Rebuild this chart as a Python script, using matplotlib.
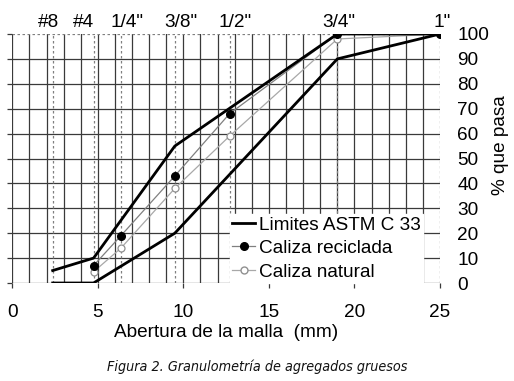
import numpy as np
import matplotlib
matplotlib.use('Agg')
import matplotlib.pyplot as plt
from matplotlib.lines import Line2D

plt.rcParams['font.family'] = ['Liberation Sans', 'DejaVu Sans']

# Sieve positions (mm) and their names on top
tamices = [2.36, 4.75, 6.35, 9.5, 12.7, 19, 25]
nombres = ['#8', '#4', '1/4"', '3/8"', '1/2"', '3/4"', '1"']
# where the names sit (mm), as drawn in the original
pos_nombres = [2.1, 4.15, 6.7, 9.85, 13.0, 19.1, 25.1]

# ASTM C 33 limits
lim_x = [2.36, 4.75, 9.5, 19, 25]
lim_sup = [5, 10, 55, 100, 100]
lim_inf = [0, 0, 20, 90, 100]

# Measured gradings
serie_x = [4.75, 6.35, 9.5, 12.7, 19, 25]
reciclada = [7, 19, 43, 68, 100, 100]
natural = [4.5, 14, 38, 59, 98, 100]

xticks = [0, 5, 10, 15, 20, 25]
yticks = [0, 10, 20, 30, 40, 50, 60, 70, 80, 90, 100]

fs = 13.7
W, H = 514, 381
fig = plt.figure(figsize=(W / 100, H / 100), dpi=100)
ax = fig.add_axes([12.3 / W, 1 - 283 / H, 427.7 / W, 249 / H])
ax.set_xlim(0, 25)
ax.set_ylim(0, 100)
for s in ax.spines.values():
    s.set_visible(False)

# grid: solid every mm / every 10 %, dotted at sieves and at 100 %
gc = '#3a3a3a'
for xv in range(0, 25):
    ax.axvline(xv, color=gc, lw=0.9, zorder=1)
for yv in yticks[:-1]:
    ax.axhline(yv, color=gc, lw=0.9, zorder=1)
for xv in tamices:
    ax.axvline(xv, color='#808080', lw=0.9, ls=(0, (2, 2)), zorder=1.2)
ax.axhline(100, color='#808080', lw=0.9, ls=(0, (2, 2)), zorder=1.2)

# series
ax.plot(serie_x, natural, color='#a8a8a8', lw=0.9, marker='o', ms=5,
        mfc='white', mec='#909090', mew=0.9, zorder=3)
ax.plot(serie_x, reciclada, color='#808080', lw=0.9, marker='o', ms=5.5,
        mfc='black', mec='black', zorder=3)
ax.plot(lim_x, lim_sup, color='black', lw=2, zorder=4)
ax.plot(lim_x, lim_inf, color='black', lw=2, zorder=4)

# ticks and labels
ax.set_xticks(xticks)
ax.set_xticklabels([str(v) for v in xticks], fontsize=fs)
ax.set_yticks(yticks)
ax.set_yticklabels([str(v) for v in yticks], fontsize=fs)
ax.tick_params(axis='x', direction='out', length=3.6, width=0.9, color=gc, pad=11.5)
ax.tick_params(axis='y', left=True, right=False, labelleft=False, labelright=True,
               direction='out', length=3.6, width=0.9, color=gc, pad=9)
ax.set_xlabel('Abertura de la malla  (mm)', fontsize=fs)
ax.xaxis.set_label_coords(0.5, -0.163)
ax.yaxis.set_label_position('right')
ax.set_ylabel('% que pasa', fontsize=fs, rotation=90)
ax.yaxis.set_label_coords(1.122, 0.555)

# sieve names above the plot
for xv, nm in zip(pos_nombres, nombres):
    ax.text(xv, 1.028, nm, transform=ax.get_xaxis_transform(), ha='center',
            va='baseline', fontsize=fs)

handles = [
    Line2D([], [], color='black', lw=2),
    Line2D([], [], color='#808080', lw=0.9, marker='o', ms=5.5, mfc='black', mec='black'),
    Line2D([], [], color='#a8a8a8', lw=0.9, marker='o', ms=5, mfc='white', mec='#909090'),
]
labels = ['Limites ASTM C 33', 'Caliza reciclada', 'Caliza natural']
leg = ax.legend(handles, labels, loc='lower right', bbox_to_anchor=(0.9605, 0),
                fontsize=fs, frameon=True, fancybox=False, facecolor='white',
                edgecolor='white', framealpha=1, borderaxespad=0, borderpad=0.12,
                handlelength=1.2, handletextpad=0.2, labelspacing=0.33)
leg.set_zorder(5)

fig.text(0.5, 1 - 370.7 / H, 'Figura 2. Granulometría de agregados gruesos',
         ha='center', va='baseline', fontsize=10.3, style='italic',
         family=['DejaVu Sans'], stretch='condensed', color='#111111')

plt.savefig('out.png', dpi=100)
